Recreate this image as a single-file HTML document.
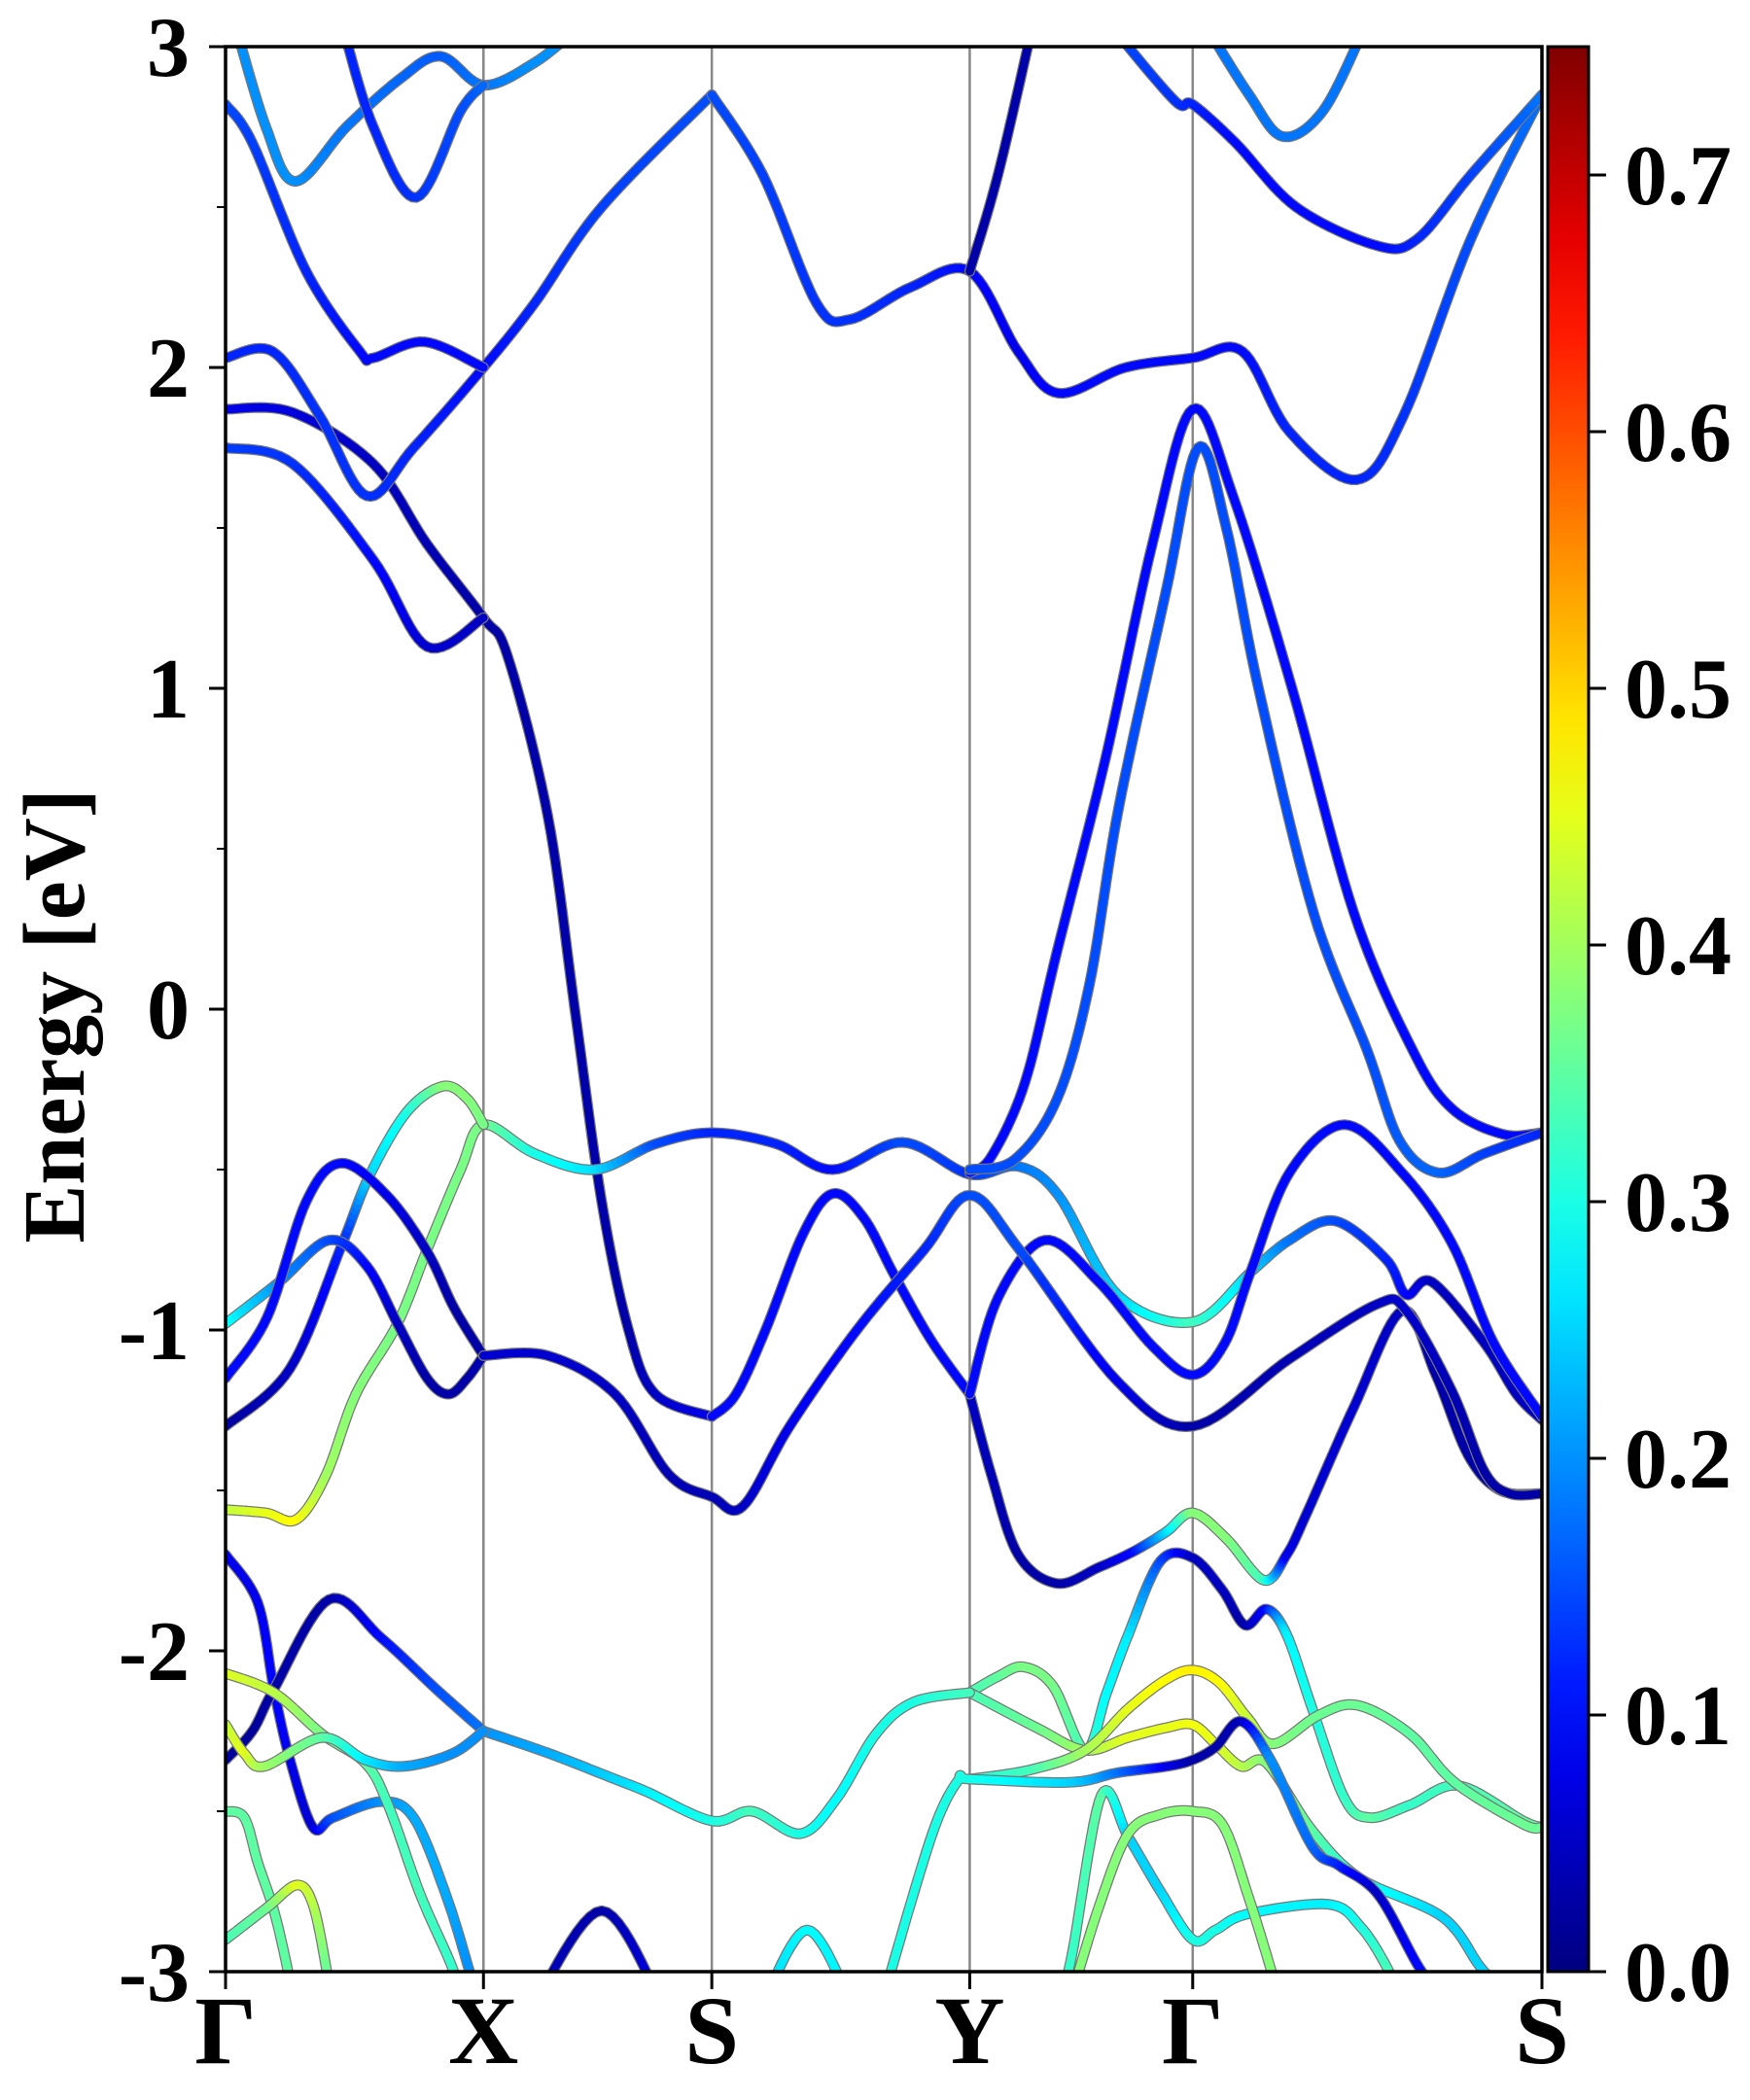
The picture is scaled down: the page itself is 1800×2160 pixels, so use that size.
<!DOCTYPE html>
<html><head><meta charset="utf-8"><style>
html,body{margin:0;padding:0;background:#fff;}
svg{display:block;font-family:"Liberation Serif",serif;font-weight:bold;}
</style></head><body>
<svg id="chart" width="1800" height="2160" viewBox="0 0 1800 2160" xmlns="http://www.w3.org/2000/svg">
<defs>
<clipPath id="clip"><rect x="232" y="48" width="1354" height="1980"/></clipPath>
<linearGradient id="jet" x1="0" y1="1" x2="0" y2="0"></linearGradient>
</defs>
<g id="grid"></g>
<g id="bandsG" clip-path="url(#clip)"></g>
<rect x="232" y="48" width="1354" height="1980" fill="none" stroke="#000" stroke-width="3.5"/>
<g id="yticks"></g>
<g id="xticks"></g>
<text x="0" y="0" transform="translate(86,1045) rotate(-90)" text-anchor="middle" font-size="90">Energy [eV]</text>
<rect x="1592" y="48" width="42" height="1980" fill="url(#jet)" stroke="#000" stroke-width="3"/>
<g id="cbticks"></g>
</svg>
<script>
const kLabels = ["Γ","X","S","Y","Γ","S"];
const kPos = [0,192,362,554,720,980];
const yTicks = [3,2,1,0,-1,-2,-3];
const cbTicks = [0.0,0.1,0.2,0.3,0.4,0.5,0.6,0.7];
const cbMax = 0.75;
// each band: k (path coordinate), e (energy eV), w (projected weight)
const bands = [
 {k:[0,50,110,150,192,210,240,260,280,300,320,362], e:[1.87,1.86,1.7,1.45,1.22,1.1,0.6,0,-0.6,-1.0,-1.2,-1.27], w:[0.08,0.07,0.05,0.04,0.03,0.03,0.03,0.03,0.03,0.03,0.05,0.08]},
 {k:[362,380,402,430,452,475,498,525,554], e:[-1.27,-1.2,-1.0,-0.7,-0.575,-0.65,-0.83,-1.03,-1.2], w:[0.1,0.1,0.1,0.1,0.1,0.1,0.1,0.1,0.1]},
 {k:[554,570,590,619,650,676,700,720,745,773,790,804,840,876,901,925,949,980], e:[-1.2,-1.45,-1.7,-1.79,-1.74,-1.69,-1.63,-1.57,-1.65,-1.78,-1.7,-1.58,-1.24,-0.94,-1.14,-1.39,-1.5,-1.51], w:[0.05,0.04,0.03,0.03,0.05,0.1,0.25,0.38,0.38,0.33,0.08,0.06,0.06,0.05,0.03,0.03,0.03,0.03]},
 {k:[554,575,594,616,640,656,672,696,720,742,759,775,790,809,833,852,882,918,966,980], e:[-2.13,-2.08,-2.05,-2.11,-2.31,-2.13,-1.95,-1.72,-1.71,-1.81,-1.92,-1.87,-1.95,-2.18,-2.46,-2.52,-2.48,-2.42,-2.53,-2.55], w:[0.33,0.35,0.37,0.37,0.33,0.28,0.27,0.15,0.05,0.05,0.03,0.1,0.27,0.3,0.32,0.35,0.32,0.33,0.35,0.35]},
 {k:[554,604,640,672,700,720,737,756,775,809,845,906,935,960], e:[-2.13,-2.24,-2.31,-2.27,-2.24,-2.23,-2.29,-2.36,-2.35,-2.56,-2.71,-2.83,-2.99,-3.1], w:[0.33,0.36,0.4,0.45,0.45,0.46,0.45,0.42,0.38,0.35,0.3,0.25,0.25,0.25]},
 {k:[554,600,640,672,700,720,740,761,780,814,843,882,915,966,980], e:[-2.4,-2.37,-2.31,-2.18,-2.09,-2.06,-2.1,-2.21,-2.29,-2.2,-2.17,-2.26,-2.41,-2.54,-2.55], w:[0.3,0.33,0.4,0.45,0.47,0.48,0.47,0.43,0.38,0.36,0.36,0.35,0.35,0.36,0.36]},
 {k:[490,496,527,546,554,628,664,701,720,737,756,778,809,829,858,889,910], e:[-3.1,-2.99,-2.56,-2.4,-2.4,-2.41,-2.38,-2.36,-2.34,-2.3,-2.22,-2.34,-2.61,-2.67,-2.76,-2.99,-3.1], w:[0.3,0.3,0.3,0.3,0.3,0.25,0.18,0.08,0.03,0.03,0.04,0.2,0.17,0.12,0.05,0.1,0.1]},
 {k:[620,630,652,672,696,720,737,761,821,845,865,875], e:[-3.1,-2.95,-2.45,-2.58,-2.75,-2.9,-2.87,-2.82,-2.79,-2.86,-2.99,-3.1], w:[0.3,0.32,0.35,0.25,0.25,0.3,0.3,0.28,0.27,0.3,0.33,0.33]},
 {k:[628,650,672,696,720,742,761,778,785], e:[-3.1,-2.8,-2.57,-2.51,-2.5,-2.54,-2.76,-2.99,-3.1], w:[0.38,0.38,0.38,0.38,0.38,0.38,0.38,0.38,0.38]},
 {k:[192,241,290,314,362,392,428,455,484,512,554], e:[-2.25,-2.32,-2.4,-2.44,-2.53,-2.5,-2.57,-2.46,-2.26,-2.16,-2.13], w:[0.2,0.22,0.25,0.27,0.3,0.33,0.3,0.28,0.3,0.3,0.33]},
 {k:[400,433,466], e:[-3.1,-2.87,-3.1], w:[0.25,0.28,0.27]},
 {k:[230,280,325], e:[-3.1,-2.81,-3.1], w:[0.05,0.03,0.08]},
 {k:[0,24,36,48,65,80,116,140,164,181,188], e:[-1.7,-1.85,-2.12,-2.34,-2.55,-2.52,-2.47,-2.52,-2.76,-2.99,-3.1], w:[0.08,0.08,0.1,0.08,0.06,0.15,0.2,0.22,0.22,0.2,0.2]},
 {k:[0,20,36,77,116,157,192], e:[-2.34,-2.25,-2.12,-1.84,-1.96,-2.12,-2.25], w:[0.02,0.02,0.03,0.03,0.1,0.15,0.18]},
 {k:[0,36,72,104,121,145,169,175], e:[-2.07,-2.13,-2.26,-2.35,-2.48,-2.76,-2.99,-3.1], w:[0.45,0.42,0.37,0.35,0.33,0.33,0.32,0.32]},
 {k:[0,14,29,72,104,133,169,192], e:[-2.23,-2.32,-2.36,-2.27,-2.34,-2.36,-2.32,-2.25], w:[0.42,0.45,0.4,0.35,0.27,0.22,0.2,0.2]},
 {k:[0,14,24,36,46,50], e:[-2.5,-2.52,-2.66,-2.81,-2.99,-3.1], w:[0.35,0.35,0.35,0.35,0.35,0.35]},
 {k:[0,31,53,65,75,78], e:[-2.9,-2.8,-2.73,-2.79,-2.99,-3.1], w:[0.33,0.36,0.45,0.42,0.36,0.36]},
 {k:[0,30,53,75,97,128,150,175,192,230,275,320,362,410,452,504,554,590,620,664,720,763,792,826,864,879,898,937,961,980], e:[-1.56,-1.57,-1.59,-1.45,-1.2,-0.98,-0.75,-0.5,-0.36,-0.45,-0.5,-0.42,-0.385,-0.42,-0.5,-0.415,-0.515,-0.49,-0.58,-0.89,-0.975,-0.82,-0.72,-0.66,-0.78,-0.89,-0.85,-1.04,-1.2,-1.28], w:[0.42,0.45,0.47,0.4,0.38,0.37,0.37,0.37,0.37,0.3,0.26,0.15,0.12,0.12,0.1,0.15,0.13,0.18,0.2,0.25,0.33,0.25,0.18,0.15,0.12,0.1,0.05,0.05,0.05,0.05]},
 {k:[0,48,87,107,135,162,180,192], e:[-1.3,-1.12,-0.73,-0.52,-0.32,-0.24,-0.28,-0.36], w:[0.02,0.05,0.12,0.25,0.3,0.38,0.38,0.37]},
 {k:[0,40,77,105,128,150,166,180,192], e:[-0.98,-0.85,-0.72,-0.8,-0.98,-1.15,-1.2,-1.15,-1.08], w:[0.3,0.2,0.15,0.1,0.05,0.03,0.03,0.03,0.04]},
 {k:[0,31,60,86,120,150,170,192], e:[-1.15,-0.96,-0.6,-0.48,-0.58,-0.755,-0.93,-1.08], w:[0.1,0.1,0.1,0.1,0.08,0.05,0.03,0.03]},
 {k:[554,575,610,650,690,720,744,763,792,833,876,913,944,980], e:[-1.2,-0.9,-0.72,-0.85,-1.05,-1.14,-1.04,-0.82,-0.51,-0.36,-0.51,-0.73,-1.04,-1.27], w:[0.1,0.1,0.1,0.1,0.1,0.1,0.1,0.1,0.1,0.1,0.1,0.1,0.1,0.1]},
 {k:[192,240,290,330,362,385,420,470,520,554,592,664,720,792,857,879,913,937,956,980], e:[-1.08,-1.08,-1.2,-1.45,-1.52,-1.55,-1.3,-1.0,-0.75,-0.58,-0.755,-1.16,-1.3,-1.09,-0.92,-0.94,-1.19,-1.44,-1.51,-1.51], w:[0.06,0.06,0.05,0.04,0.04,0.05,0.08,0.1,0.12,0.15,0.15,0.08,0.03,0.04,0.05,0.06,0.04,0.03,0.03,0.03]},
 {k:[554,570,595,619,655,690,720,750,794,840,884,913,951,980], e:[-0.51,-0.46,-0.23,0.18,0.78,1.45,1.87,1.6,1.0,0.3,-0.13,-0.31,-0.39,-0.385], w:[0.1,0.1,0.1,0.1,0.1,0.1,0.1,0.1,0.1,0.1,0.1,0.1,0.1,0.1]},
 {k:[554,587,619,643,665,700,724,745,769,810,850,874,903,937,980], e:[-0.5,-0.47,-0.28,0.075,0.63,1.3,1.75,1.5,1.0,0.3,-0.13,-0.41,-0.51,-0.45,-0.385], w:[0.15,0.15,0.15,0.15,0.15,0.15,0.15,0.15,0.15,0.15,0.15,0.16,0.17,0.14,0.12]},
 {k:[0,35,70,105,140,192,230,280,362], e:[2.03,2.05,1.85,1.6,1.75,2.0,2.2,2.5,2.85], w:[0.12,0.12,0.13,0.13,0.12,0.1,0.12,0.14,0.15]},
 {k:[362,400,440,465,510,554,590,620,670,720,757,792,842,877,927,980], e:[2.85,2.6,2.2,2.15,2.25,2.3,2.05,1.92,2.0,2.03,2.05,1.8,1.65,1.85,2.4,2.85], w:[0.15,0.14,0.13,0.13,0.12,0.1,0.08,0.1,0.1,0.1,0.1,0.12,0.12,0.13,0.15,0.18]},
 {k:[0,50,110,150,192], e:[1.75,1.7,1.4,1.13,1.22], w:[0.14,0.13,0.1,0.06,0.05]},
 {k:[0,20,60,100,110,148,192], e:[2.82,2.7,2.3,2.05,2.03,2.08,2.0], w:[0.15,0.14,0.12,0.1,0.1,0.1,0.1]},
 {k:[5,30,52,90,130,160,192,230,260], e:[3.1,2.75,2.58,2.75,2.9,2.97,2.88,2.95,3.05], w:[0.2,0.2,0.2,0.18,0.17,0.16,0.18,0.2,0.2]},
 {k:[88,110,142,175,192], e:[3.05,2.75,2.53,2.8,2.88], w:[0.12,0.12,0.13,0.15,0.17]},
 {k:[554,575,600], e:[2.3,2.6,3.05], w:[0.03,0.03,0.03]},
 {k:[662,707,720,752,797,857,887,927,980], e:[3.05,2.83,2.82,2.7,2.5,2.38,2.4,2.6,2.85], w:[0.15,0.13,0.12,0.1,0.1,0.1,0.12,0.14,0.18]},
 {k:[732,762,787,817,847], e:[3.05,2.85,2.72,2.8,3.05], w:[0.18,0.18,0.18,0.18,0.18]}
];

const NS="http://www.w3.org/2000/svg";
const X0=232,X1=1586,Y0=48,Y1=2028;
const xs=k=>X0+k/980*(X1-X0);
const ys=e=>Y0+(3-e)/6*(Y1-Y0);
function jet(t){t=Math.max(0,Math.min(1,t));const c=v=>Math.round(255*Math.max(0,Math.min(1,v)));
 return `rgb(${c(1.5-Math.abs(4*t-3))},${c(1.5-Math.abs(4*t-2))},${c(1.5-Math.abs(4*t-1))})`;}
function mk(tag,attrs,parent){const el=document.createElementNS(NS,tag);for(const a in attrs)el.setAttribute(a,attrs[a]);parent.appendChild(el);return el;}

const grad=document.getElementById('jet');
for(let i=0;i<=20;i++){mk('stop',{offset:(i/20),'stop-color':jet(i/20)},grad);}

const grid=document.getElementById('grid'), xt=document.getElementById('xticks');
kPos.forEach((k,i)=>{
 if(i>0&&i<kPos.length-1){const l=mk('line',{x1:xs(k),x2:xs(k),y1:Y0,y2:Y1,stroke:'#888','stroke-width':2.5},grid);
  
  }
 mk('line',{x1:xs(k),x2:xs(k),y1:Y1,y2:Y1+18,stroke:'#000','stroke-width':3},xt);
 const t=mk('text',{x:xs(k),y:2122,'text-anchor':'middle','font-size':100},xt);t.textContent=kLabels[i];
 
 
});
const yt=document.getElementById('yticks');
yTicks.forEach(v=>{
 const t=mk('text',{x:195,y:ys(v)+30,'text-anchor':'end','font-size':88},yt);t.textContent=String(v);
 
 
 mk('line',{x1:X0-17,x2:X0,y1:ys(v),y2:ys(v),stroke:'#000','stroke-width':3},yt);
});
for(let v=-2.5;v<3;v+=1){mk('line',{x1:X0-9,x2:X0,y1:ys(v),y2:ys(v),stroke:'#000','stroke-width':2},yt);}
const cb=document.getElementById('cbticks');
cbTicks.forEach(v=>{
 const y=Y1-v/cbMax*(Y1-Y0);
 mk('line',{x1:1634,x2:1652,y1:y,y2:y,stroke:'#000','stroke-width':3},cb);
 const t=mk('text',{x:1671,y:y+30,'font-size':88},cb);t.textContent=v.toFixed(1);
 
 
});

function sample(b){
 const n=b.k.length,pts=[];
 for(let i=0;i<n-1;i++){
  const p0=i>0?i-1:i,p3=i+2<n?i+2:i+1;
  const kk=[b.k[p0],b.k[i],b.k[i+1],b.k[p3]],ee=[b.e[p0],b.e[i],b.e[i+1],b.e[p3]];
  const steps=12;
  for(let s=0;s<steps;s++){const t=s/steps,t2=t*t,t3=t2*t;
   const cr=a=>0.5*((2*a[1])+(-a[0]+a[2])*t+(2*a[0]-5*a[1]+4*a[2]-a[3])*t2+(-a[0]+3*a[1]-3*a[2]+a[3])*t3);
   pts.push([cr(kk),cr(ee),b.w[i]+(b.w[i+1]-b.w[i])*t]);}
 }
 pts.push([b.k[n-1],b.e[n-1],b.w[n-1]]);
 return pts;
}
const bg=document.getElementById('bandsG');
bands.forEach((b,bi)=>{
 const g=mk('g',{},bg);
 
 
 const pts=sample(b);
 const d=pts.map((p,i)=>(i?'L':'M')+xs(p[0]).toFixed(1)+' '+ys(p[1]).toFixed(1)).join(' ');
 mk('path',{d:d,fill:'none',stroke:'#777','stroke-width':11,'stroke-linecap':'round','stroke-linejoin':'round'},g);
 for(let i=0;i<pts.length-1;i++){
  mk('line',{x1:xs(pts[i][0]),y1:ys(pts[i][1]),x2:xs(pts[i+1][0]),y2:ys(pts[i+1][1]),stroke:jet(((pts[i][2]+pts[i+1][2])/2)/cbMax),'stroke-width':8.5,'stroke-linecap':'round'},g);
 }
});
</script>
</body></html>
